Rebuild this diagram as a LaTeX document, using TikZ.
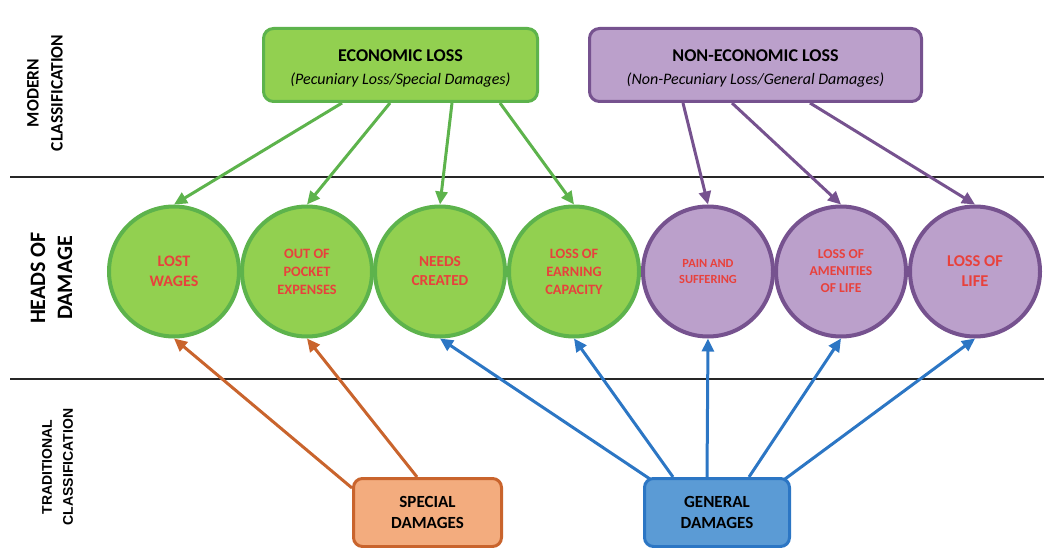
\documentclass[tikz,border=0pt]{standalone}
\usepackage{fontspec}
\setmainfont{Carlito}
\newfontfamily\arialfont{Liberation Sans}
\usetikzlibrary{arrows.meta}
\definecolor{grfill}{HTML}{92D050}
\definecolor{grline}{HTML}{5DB34C}
\definecolor{pufill}{HTML}{BBA0CB}
\definecolor{puline}{HTML}{76528F}
\definecolor{orfill}{HTML}{F3AC7E}
\definecolor{orline}{HTML}{C9642D}
\definecolor{blfill}{HTML}{5B9BD5}
\definecolor{blline}{HTML}{2C76C4}
\definecolor{headred}{HTML}{E8413C}
\begin{document}
\begin{tikzpicture}[x=1pt,y=-1pt,
  topbox/.style={draw, line width=3pt, rounded corners=10pt, align=center, inner sep=0pt,
    minimum height=73pt, font=\fontsize{16}{23}\selectfont},
  botbox/.style={draw, line width=3pt, rounded corners=9pt, align=center, inner sep=0pt,
    minimum height=68pt, font=\fontsize{17}{21}\selectfont\bfseries},
  head/.style={circle, draw, line width=4pt, minimum size=130pt, inner sep=0pt, align=center,
    text=headred},
  ecohead/.style={head, fill=grfill, draw=grline},
  nonhead/.style={head, fill=pufill, draw=puline},
  arr/.style={line width=3pt, -{Triangle[length=13pt,width=12pt]}},
  sidelabel/.style={rotate=90, align=center},
  divider/.style={line width=1.3pt, black!85}
]
\useasboundingbox (0,0) rectangle (1044,548);

% dividers
\draw[divider] (10,177) -- (1044,177);
\draw[divider] (10,379) -- (1044,379);

% side labels
\node[sidelabel, font=\fontsize{17.5}{24}\selectfont\bfseries] (lmod) at (45,93) {MODERN\\CLASSIFICATION};
\node[sidelabel, font=\fontsize{22}{27}\selectfont\bfseries] (lheads) at (51.5,278) {HEADS OF\\DAMAGE};
\node[sidelabel, font=\arialfont\fontsize{14}{21}\selectfont\bfseries] (ltrad) at (57.5,467) {TRADITIONAL\\CLASSIFICATION};

% top boxes
\node[topbox, fill=grfill, draw=grline, minimum width=274pt] (eco) at (400.5,65)
  {\rule{0pt}{19pt}{\fontsize{18}{23}\selectfont\bfseries ECONOMIC LOSS}\\
   {\itshape (Pecuniary Loss/Special Damages)}};
\node[topbox, fill=pufill, draw=puline, minimum width=332pt] (neco) at (755.5,65)
  {\rule{0pt}{19pt}{\fontsize{18}{23}\selectfont\bfseries NON-ECONOMIC LOSS}\\
   {\itshape (Non-Pecuniary Loss/General Damages)}};

% heads of damage
\node[ecohead, font=\fontsize{16}{20}\selectfont\bfseries] (lw) at (174,271.5) {LOST\\WAGES};
\node[ecohead, font=\fontsize{14.3}{18}\selectfont\bfseries] (oop) at (307,271.5) {OUT OF\\POCKET\\EXPENSES};
\node[ecohead, font=\fontsize{15.3}{19}\selectfont\bfseries] (nc) at (440,271.5) {NEEDS\\CREATED};
\node[ecohead, font=\fontsize{14.3}{18}\selectfont\bfseries] (lec) at (574,271.5) {LOSS OF\\EARNING\\CAPACITY};
\node[nonhead, font=\fontsize{12.4}{16}\selectfont\bfseries] (ps) at (708,271.5) {PAIN AND\\SUFFERING};
\node[nonhead, font=\fontsize{13.6}{17}\selectfont\bfseries] (am) at (841,271.5) {LOSS OF\\AMENITIES\\OF LIFE};
\node[nonhead, font=\fontsize{16.5}{20}\selectfont\bfseries] (ll) at (975,271.5) {LOSS OF\\LIFE};

% bottom boxes
\node[botbox, fill=orfill, draw=orline, minimum width=148pt] (sp) at (427.5,512.5) {SPECIAL\\DAMAGES};
\node[botbox, fill=blfill, draw=blline, minimum width=145pt] (ge) at (717,512.5) {GENERAL\\DAMAGES};

% modern classification arrows
\draw[arr, grline] ([xshift=80pt]eco.south west) -- (lw.north);
\draw[arr, grline] ([xshift=128pt]eco.south west) -- (oop.north);
\draw[arr, grline] ([xshift=190pt]eco.south west) -- (nc.north);
\draw[arr, grline] ([xshift=238pt]eco.south west) -- (lec.north);
\draw[arr, puline] ([xshift=95pt]neco.south west) -- (ps.north);
\draw[arr, puline] ([xshift=144pt]neco.south west) -- (am.north);
\draw[arr, puline] ([xshift=222pt]neco.south west) -- (ll.north);

% traditional classification arrows
\draw[arr, orline] ([yshift=-11pt]sp.north west) -- (lw.south);
\draw[arr, orline] ([xshift=65pt]sp.north west) -- (oop.south);
\draw[arr, blline] ([xshift=7pt,yshift=-2pt]ge.north west) -- (nc.south);
\draw[arr, blline] ([xshift=30pt]ge.north west) -- (lec.south);
\draw[arr, blline] ([xshift=64pt]ge.north west) -- (ps.south);
\draw[arr, blline] ([xshift=106pt]ge.north west) -- (am.south);
\draw[arr, blline] ([xshift=142pt,yshift=-2pt]ge.north west) -- (ll.south);
\end{tikzpicture}
\end{document}
